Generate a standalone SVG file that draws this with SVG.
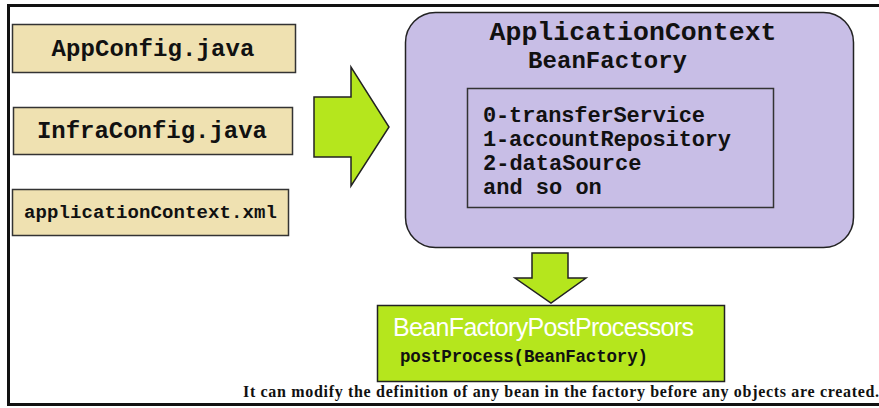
<svg xmlns="http://www.w3.org/2000/svg" width="879" height="408" viewBox="0 0 879 408">
<style>
.mono{font-family:"Liberation Mono","Courier New",monospace;font-weight:bold;fill:#111}
.src{fill:#efe1b1;stroke:#333;stroke-width:1.5}
.arrow{fill:#b5e61d;stroke:#222;stroke-width:1.5;stroke-linejoin:miter}
</style>
<rect x="0" y="0" width="879" height="408" fill="#fff"/>
<path d="M890 5.5 H8.5 V404.5 H890" fill="none" stroke="#111" stroke-width="3"/>
<g id="appconfig">
<rect class="src" x="12.5" y="24.5" width="283" height="48"/>
<text class="mono" x="153" y="56" font-size="24" text-anchor="middle" textLength="203">AppConfig.java</text>
</g>
<g id="infraconfig">
<rect class="src" x="13.5" y="107.5" width="279" height="47"/>
<text class="mono" x="152" y="138" font-size="24" text-anchor="middle" textLength="230">InfraConfig.java</text>
</g>
<g id="appcontextxml">
<rect class="src" x="12.5" y="189.5" width="276" height="46"/>
<text class="mono" x="150.5" y="218" font-size="19" text-anchor="middle" textLength="253">applicationContext.xml</text>
</g>
<g id="connectors">
<path class="arrow" d="M314 97 H351 V67 L389 127 L351 186 V157 H314 Z"/>
<path class="arrow" d="M532 253 H568 V278 H586 L551 303 L515 278 H532 Z"/>
</g>
<g id="applicationcontext">
<rect x="405.5" y="12.5" width="448" height="235" rx="30" ry="30" fill="#c8bee6" stroke="#222" stroke-width="1.5"/>
<text class="mono" x="633" y="40" font-size="26.5" text-anchor="middle" textLength="287">ApplicationContext</text>
<text class="mono" x="607.5" y="68" font-size="24" text-anchor="middle" textLength="159">BeanFactory</text>
<rect x="467.5" y="88.5" width="306" height="119" fill="none" stroke="#333" stroke-width="1.5"/>
<text class="mono" x="483" y="122" font-size="22" textLength="222">0-transferService</text>
<text class="mono" x="483" y="146" font-size="22" textLength="248">1-accountRepository</text>
<text class="mono" x="483" y="170" font-size="22">2-dataSource</text>
<text class="mono" x="483" y="194" font-size="22">and so on</text>
</g>
<g id="postprocessors">
<rect x="377.5" y="305.5" width="347" height="76" fill="#b5e61d" stroke="#222" stroke-width="1.5"/>
<text x="393" y="336" font-family="Liberation Sans, Arial, sans-serif" font-size="25" fill="#fff" textLength="301">BeanFactoryPostProcessors</text>
<text class="mono" x="400" y="362" font-size="17.5" textLength="248">postProcess(BeanFactory)</text>
</g>
<text x="243" y="397" font-family="Liberation Serif, 'Times New Roman', serif" font-weight="bold" font-size="16" fill="#111" textLength="636">It can modify the definition of any bean in the factory before any objects are created.</text>
</svg>
